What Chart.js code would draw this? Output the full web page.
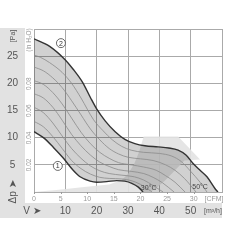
<!DOCTYPE html>
<html><head><meta charset="utf-8">
<script src="https://cdn.jsdelivr.net/npm/chart.js@4"></script>
<style>html,body{margin:0;padding:0;background:#fff}canvas{display:block}</style>
</head><body>
<canvas id="c" width="250" height="250"></canvas>
<script>
// ---- data (x = air flow in m³/h, y = static pressure in Pa) ----
const flowTicks = [10, 20, 30, 40, 50];              // m³/h labels
const cfmTicks = [0, 5, 10, 15, 20, 25, 30];         // CFM labels
const paTicks = [5, 10, 15, 20, 25];                 // Pa labels
const inH2OTicks = [0.02, 0.04, 0.06, 0.08];         // in H2O labels

const curve2Q = [0, 5, 10, 12.5, 15.6, 18, 20.1, 22.7, 25.9, 29.0, 32.2, 35.4, 39.6, 43.0, 46.0, 48.5, 50.7, 53.0, 55.2, 57.8, 58.7];
const curve2P = [28.2, 26.8, 24.3, 22.6, 20.1, 17.4, 15.2, 13.1, 11.1, 9.7, 8.9, 8.5, 8.3, 8.1, 7.7, 6.8, 5.3, 4.0, 2.8, 0.6, 0];

const curve1Q = [0, 3.0, 6.2, 9.4, 12.5, 14.7, 17.9, 20.0, 23.2, 26.4, 29.0, 31.2, 33.3, 34.8];
const curve1P = [11.1, 10.0, 8.2, 6.2, 4.0, 2.8, 2.0, 1.8, 1.9, 2.1, 2.0, 1.6, 0.9, 0];

const contourA = [[0,25.2],[2,24.8],[5,23.8],[9,22.0],[12,20.0],[15,17.3],[19,13.3],[22,11.3],[25,9.6],[28,8.4],[31,7.7],[35,7.3],[40,7.1],[44,6.6],[47,5.6],[50,3.8],[53,1.8],[55.2,0]];
const contourB = [[0,23.0],[3,22.3],[6,21.0],[9,19.2],[12,16.8],[15,14.2],[18,11.6],[21,9.6],[24,8.0],[27,7.0],[30,6.4],[34,6.1],[38,5.8],[42,5.0],[45,4.0],[48,2.5],[50,1.2],[51.7,0]];
const contourC = [[0,20.5],[3,19.8],[6,18.3],[9,16.2],[12,13.6],[15,11.0],[18,8.9],[21,7.3],[24,6.2],[27,5.4],[31,5.0],[35,4.6],[39,4.0],[42,3.0],[45,1.8],[48.2,0]];
const contourD = [[0,18.1],[3,17.3],[6,15.6],[9,13.2],[12,10.6],[15,8.5],[18,6.8],[21,5.5],[24,4.7],[27,4.1],[31,3.8],[35,3.4],[38,2.7],[41,1.7],[44.7,0]];
const contourE = [[0,15.6],[3,14.6],[6,12.7],[9,10.3],[12,8.0],[15,6.2],[18,4.8],[21,3.9],[24,3.4],[28,3.1],[32,2.8],[35,2.2],[38,1.2],[41.2,0]];
const contourF = [[0,13.0],[3,12.0],[6,10.2],[9,8.0],[12,5.8],[15,4.3],[18,3.3],[21,2.7],[24,2.5],[28,2.4],[31,2.1],[34,1.4],[37.7,0]];

// decorative background arrow outline (data coords)
const arrowShape = [[0,0],[8,0.4],[16,0.9],[24,1.4],[28,2.2],[30,3.3],[32,5.2],[33.5,7.3],[35,10.2],[46,10.2],[53,6.0],[48,5.8],[45,4.0],[42,2.2],[39,0.7],[37,0],[0,0]];

const tempLabels = [{t:'30°C', q:36.6, p:0.8}, {t:'50°C', q:53.0, p:1.0}];
const curveLabels = [{t:'2', q:8.6, p:27.4}, {t:'1', q:7.6, p:4.8}];
const CFM_TO_M3H = 1.699;

const pts = (qs, ps) => qs.map((q, i) => ({x: q, y: ps[i]}));
const pairs = a => a.map(p => ({x: p[0], y: p[1]}));
const c2 = pts(curve2Q, curve2P), c1 = pts(curve1Q, curve1P);
// lower boundary of the shaded field: curve 1, then the axis out to the end of curve 2
const lowerBound = c1.concat([{x: curve2Q[curve2Q.length - 1], y: 0}]);

const contourStyle = {borderColor: '#8a8a8a', borderWidth: 0.8, pointRadius: 0, showLine: true, fill: false, cubicInterpolationMode: 'monotone'};
const FONT = '"Liberation Sans", Arial, sans-serif';

const deco = {
  id: 'deco',
  beforeDraw(chart) {
    const ctx = chart.ctx;
    ctx.save();
    ctx.fillStyle = '#e2e2e2';
    ctx.fillRect(0, 28, 25, 190);
    ctx.fillRect(0, 203, 222, 15);
    ctx.restore();
  },
  afterDraw(chart) {
    const ctx = chart.ctx, xs = chart.scales.x, ys = chart.scales.y;
    ctx.save();
    ctx.textAlign = 'center'; ctx.textBaseline = 'middle';
    ctx.fillStyle = '#555'; ctx.font = '10px ' + FONT;
    paTicks.forEach(v => ctx.fillText(String(v), 12.5, ys.getPixelForValue(v)));
    flowTicks.forEach(v => ctx.fillText(String(v), xs.getPixelForValue(v), 211));
    ctx.fillText('V ➤', 32, 211);
    ctx.font = '7px ' + FONT;
    ctx.fillText('[m³/h]', 213, 211);
    const rot = (txt, x, y, font, color) => {
      ctx.save(); ctx.translate(x, y); ctx.rotate(-Math.PI / 2);
      ctx.font = font; ctx.fillStyle = color; ctx.fillText(txt, 0, 0); ctx.restore();
    };
    rot('[Pa]', 13, 36, '7px ' + FONT, '#555');
    rot('Δp ➤', 13, 192, '10px ' + FONT, '#555');
    rot('(in H₂O)', 29, 40, '6.5px ' + FONT, '#999');
    inH2OTicks.forEach(v => rot(v.toFixed(2), 29, ys.getPixelForValue(v * 249.1), '6.5px ' + FONT, '#999'));
    ctx.font = '7px ' + FONT; ctx.fillStyle = '#999';
    ctx.strokeStyle = '#999'; ctx.lineWidth = 1;
    cfmTicks.forEach(v => {
      const px = xs.getPixelForValue(v * CFM_TO_M3H);
      ctx.fillText(String(v), px, 199);
      ctx.beginPath(); ctx.moveTo(Math.round(px) + 0.5, ys.bottom); ctx.lineTo(Math.round(px) + 0.5, ys.bottom + 2); ctx.stroke();
    });
    ctx.fillText('[CFM]', 214, 199);
    ctx.fillStyle = '#444'; ctx.font = '7px ' + FONT;
    tempLabels.forEach(l => ctx.fillText(l.t, xs.getPixelForValue(l.q), ys.getPixelForValue(l.p)));
    ctx.font = '7px ' + FONT; ctx.strokeStyle = '#444'; ctx.lineWidth = 0.8;
    curveLabels.forEach(l => {
      const px = xs.getPixelForValue(l.q), py = ys.getPixelForValue(l.p);
      ctx.fillStyle = '#fff'; ctx.beginPath(); ctx.arc(px, py, 4.5, 0, Math.PI * 2); ctx.fill(); ctx.stroke();
      ctx.fillStyle = '#333'; ctx.fillText(l.t, px, py + 0.5);
    });
    ctx.restore();
  }
};

new Chart(document.getElementById('c'), {
  type: 'scatter',
  data: {
    datasets: [
      {data: c2, showLine: true, borderColor: '#333', borderWidth: 1.4, pointRadius: 0, cubicInterpolationMode: 'monotone', fill: {target: 1}, backgroundColor: 'rgba(0,0,0,0.18)', order: 1},
      {data: lowerBound, showLine: true, borderWidth: 0, pointRadius: 0, cubicInterpolationMode: 'monotone', fill: false, order: 12},
      {data: pairs(arrowShape), showLine: true, fill: 'shape', backgroundColor: 'rgba(226,226,226,0.9)', borderWidth: 0, pointRadius: 0, tension: 0, order: 9},
      Object.assign({data: pairs(contourA), order: 5}, contourStyle),
      Object.assign({data: pairs(contourB), order: 5}, contourStyle),
      Object.assign({data: pairs(contourC), order: 5}, contourStyle),
      Object.assign({data: pairs(contourD), order: 5}, contourStyle),
      Object.assign({data: pairs(contourE), order: 5}, contourStyle),
      Object.assign({data: pairs(contourF), order: 5}, contourStyle),
      {data: c1, showLine: true, borderColor: '#333', borderWidth: 1.4, pointRadius: 0, cubicInterpolationMode: 'monotone', fill: false, order: 1}
    ]
  },
  options: {
    responsive: false, animation: false, devicePixelRatio: 1,
    layout: {padding: {left: 34, top: 29, right: 28, bottom: 58}},
    plugins: {legend: {display: false}, tooltip: {enabled: false}, filler: {drawTime: 'beforeDatasetsDraw'}},
    scales: {
      x: {type: 'linear', min: 0, max: 60, ticks: {display: false, stepSize: 10}, grid: {color: '#aaa', lineWidth: 1, drawTicks: false}, border: {color: '#aaa'}},
      y: {type: 'linear', min: 0, max: 30, ticks: {display: false, stepSize: 5}, grid: {color: '#aaa', lineWidth: 1, drawTicks: false}, border: {color: '#aaa'}}
    }
  },
  plugins: [deco]
});
</script>
</body></html>
